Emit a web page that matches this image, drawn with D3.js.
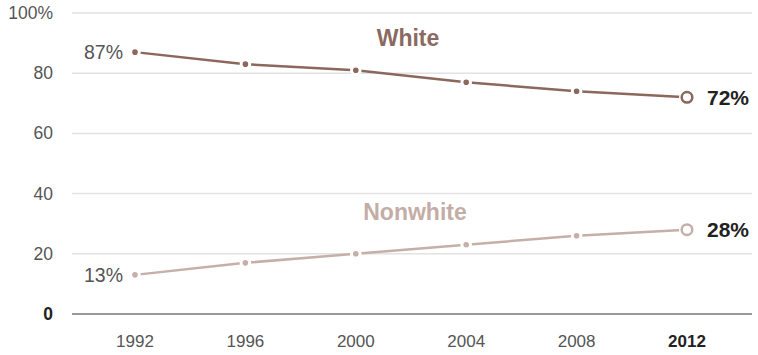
<!DOCTYPE html>
<html><head><meta charset="utf-8">
<script src="https://cdn.jsdelivr.net/npm/d3@7"></script>
<style>body{margin:0;background:#fff}svg{display:block}text{font-family:"Liberation Sans",Arial,sans-serif}</style>
</head><body><svg id="c" width="758" height="355"></svg>
<script>
const years = [1992, 1996, 2000, 2004, 2008, 2012];
const white = [87, 83, 81, 77, 74, 72];
const nonwhite = [13, 17, 20, 23, 26, 28];
const yTicks = [0, 20, 40, 60, 80, 100];
const yTickLabels = ["0", "20", "40", "60", "80", "100%"];
const seriesNames = ["White", "Nonwhite"];

const svg = d3.select("#c");
const x = d3.scaleLinear().domain([1992, 2012]).range([135, 687]);
const y = d3.scaleLinear().domain([0, 100]).range([314, 13]);
const X0 = 72, X1 = 752;

// gridlines
svg.append("g").selectAll("line").data(yTicks.filter(d => d > 0)).join("line")
  .attr("x1", X0).attr("x2", X1).attr("y1", d => y(d)).attr("y2", d => y(d))
  .attr("stroke", "#e2e2e2").attr("stroke-width", 1.5);
svg.append("line").attr("x1", X0).attr("x2", X1).attr("y1", y(0)).attr("y2", y(0))
  .attr("stroke", "#9a9a9a").attr("stroke-width", 2);

// y labels
svg.append("g").selectAll("text").data(yTicks).join("text")
  .attr("x", 53).attr("y", d => y(d) + 6).attr("text-anchor", "end")
  .attr("font-size", 17.5).attr("fill", (d) => d === 0 ? "#222" : "#555")
  .attr("font-weight", d => d === 0 ? "bold" : "normal")
  .text((d, i) => yTickLabels[i]);

// x labels
svg.append("g").selectAll("text").data(years).join("text")
  .attr("x", d => x(d)).attr("y", 347).attr("text-anchor", "middle")
  .attr("font-size", 17).attr("fill", d => d === 2012 ? "#222" : "#555")
  .attr("font-weight", d => d === 2012 ? "bold" : "normal")
  .text(d => d);

const series = [
  {name: seriesNames[0], vals: white, color: "#8c675c", labelColor: "#8a6a60"},
  {name: seriesNames[1], vals: nonwhite, color: "#c5afa8", labelColor: "#c4ada6"}
];
const line = d3.line().x((d, i) => x(years[i])).y(d => y(d));

series.forEach(s => {
  svg.append("path").datum(s.vals).attr("d", line)
    .attr("fill", "none").attr("stroke", s.color).attr("stroke-width", 2.5);
  const g = svg.append("g");
  g.selectAll("circle").data(s.vals.slice(0, -1)).join("circle")
    .attr("cx", (d, i) => x(years[i])).attr("cy", d => y(d)).attr("r", 4.3)
    .attr("fill", s.color).attr("stroke", "#fff").attr("stroke-width", 3);
  const last = s.vals.length - 1;
  g.append("circle").attr("cx", x(years[last])).attr("cy", y(s.vals[last])).attr("r", 8)
    .attr("fill", "#fff");
  g.append("circle").attr("cx", x(years[last])).attr("cy", y(s.vals[last])).attr("r", 5.3)
    .attr("fill", "#fff").attr("stroke", s.color).attr("stroke-width", 2.5);
  // end labels
  svg.append("text").attr("x", x(years[last]) + 20).attr("y", y(s.vals[last]) + 7.5)
    .attr("font-size", 21).attr("font-weight", "bold").attr("fill", "#222")
    .text(s.vals[last] + "%");
  svg.append("text").attr("x", x(years[0]) - 12).attr("y", y(s.vals[0]) + 7)
    .attr("text-anchor", "end").attr("font-size", 19.5).attr("fill", "#555")
    .text(s.vals[0] + "%");
});

// series labels
svg.append("text").attr("x", 408).attr("y", 46).attr("text-anchor", "middle")
  .attr("font-size", 23).attr("font-weight", "bold").attr("fill", series[0].labelColor).text(seriesNames[0]);
svg.append("text").attr("x", 415).attr("y", 220).attr("text-anchor", "middle")
  .attr("font-size", 23).attr("font-weight", "bold").attr("fill", series[1].labelColor).text(seriesNames[1]);
</script></body></html>
